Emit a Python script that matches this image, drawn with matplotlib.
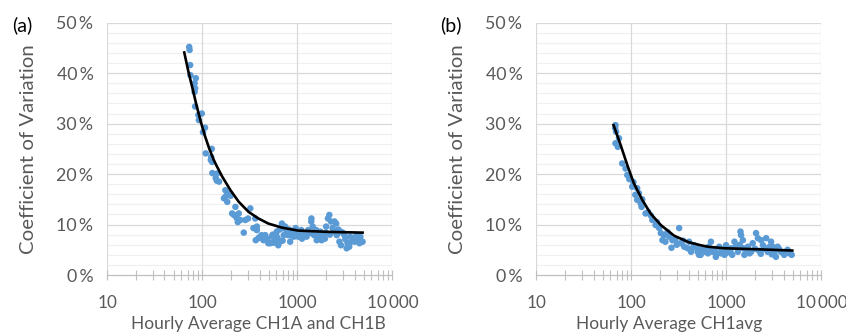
import numpy as np
import matplotlib
matplotlib.use('Agg')
import matplotlib.pyplot as plt
from matplotlib.ticker import FixedLocator, FuncFormatter, LogLocator, NullFormatter

plt.rcParams['font.family'] = ['Lato', 'DejaVu Sans']

# ---- panel (a): hourly average CH1A and CH1B ----
a_x = [72.8, 73.5, 74.5, 75, 85.5, 83, 84, 83, 84, 91, 98.8, 92, 106.8, 101.7,
       108.7, 125.7, 122.8, 124, 127, 127.5, 138.4, 142, 150, 143, 174.8, 183,
       198.6, 168.9, 183, 175, 223, 206, 215, 242, 251, 230, 236, 320, 303, 284,
       273, 345, 361, 375, 375, 390, 365, 400, 420, 460, 440, 480, 495, 520, 538,
       550, 560, 583, 600, 607, 620, 630, 650, 656, 688, 700, 700, 720, 745, 760,
       780, 806, 820, 840, 870, 880, 905, 920, 940, 960, 1000, 1020, 1050, 1100,
       1120, 1150, 1200, 1250, 1300, 1350, 1400, 1406, 1450, 1500, 1550, 1580,
       1600, 1660, 1700, 1750, 1800, 1900, 1950, 2000, 2010, 2100, 2170, 2200,
       2260, 2350, 2400, 2460, 2560, 2600, 2700, 2770, 2850, 2880, 3000, 3130,
       3200, 3300, 3370, 3510, 3550, 3600, 3800, 4000, 4200, 4400, 4500, 4600,
       4860]
a_y = [45.2, 44.6, 41.6, 39.6, 39.0, 38.0, 37.0, 36.3, 33.4, 31.7, 32.0, 30.7,
       29.2, 28.3, 24.1, 25.0, 22.8, 23.4, 22.4, 20.2, 19.2, 18.7, 18.5, 20.1,
       16.8, 16.2, 15.7, 15.2, 14.5, 15.5, 13.5, 12.2, 11.9, 12.2, 10.9, 11.3,
       10.5, 13.2, 11.2, 10.9, 8.4, 9.3, 11.2, 8.9, 9.6, 7.3, 6.9, 7.5, 7.9, 7.9,
       6.9, 7.1, 6.3, 6.3, 7.6, 8.0, 6.4, 6.9, 7.8, 8.6, 7.3, 5.9, 9.0, 6.6, 10.2,
       9.3, 6.8, 7.9, 9.6, 8.2, 8.6, 7.9, 9.0, 6.6, 8.3, 7.8, 8.6, 7.6, 8.0, 9.3,
       8.3, 7.6, 8.4, 8.9, 7.2, 8.2, 7.9, 7.6, 8.9, 8.3, 10.6, 11.2, 9.6, 7.9,
       8.5, 8.9, 6.9, 7.3, 8.0, 8.6, 6.9, 7.8, 7.2, 8.4, 9.6, 11.2, 11.9, 8.0,
       10.6, 9.3, 8.6, 10.6, 10.2, 7.9, 9.0, 6.6, 8.6, 5.9, 8.4, 7.9, 7.1, 5.3,
       6.3, 5.6, 6.3, 7.6, 7.3, 6.6, 7.9, 7.0, 6.3, 7.6, 6.6]
a_fit_x = [64.6, 71, 78.8, 87, 96.3, 106, 118, 132, 140, 162, 198, 242, 307,
           390, 495, 685, 1020, 2100, 4860]
a_fit_y = [44.1, 40.5, 37.0, 33.6, 30.4, 27.7, 25.1, 22.8, 21.8, 19.5, 16.8,
           14.5, 12.5, 11.2, 10.2, 9.4, 8.8, 8.55, 8.4]

# ---- panel (b): hourly average CH1avg ----
b_x = [68, 67.5, 69, 68, 74, 72, 80, 86.8, 90.5, 95, 102, 105, 115, 120, 110,
       115, 125, 128, 130, 141, 150, 160, 166, 180, 185, 196, 204, 220, 212, 228,
       240, 250, 264, 270, 290, 300, 318, 330, 350, 360, 390, 405, 424, 430, 456,
       459, 495, 497, 515, 536, 550, 583, 600, 639, 650, 687, 700, 714, 750, 774,
       800, 840, 875, 900, 954, 990, 1000, 1033, 1100, 1120, 1150, 1215, 1250,
       1320, 1380, 1405, 1425, 1490, 1500, 1545, 1600, 1680, 1750, 1820, 1890,
       2000, 2050, 2140, 2200, 2300, 2320, 2420, 2500, 2620, 2720, 2800, 2950,
       3000, 3060, 3200, 3320, 3460, 3600, 3740, 4050, 4200, 4400, 4600, 4860]
b_y = [29.7, 29.1, 28.4, 26.1, 27.1, 25.4, 22.1, 21.1, 19.8, 19.0, 17.5, 18.4,
       17.2, 16.2, 15.9, 14.9, 14.2, 13.5, 15.0, 12.2, 12.5, 11.8, 10.9, 9.9,
       10.5, 9.3, 8.3, 7.9, 6.9, 6.6, 8.5, 7.6, 5.4, 6.9, 7.0, 6.0, 9.3, 6.3, 6.8,
       5.6, 5.3, 6.6, 4.6, 5.2, 5.9, 5.6, 5.3, 4.6, 4.0, 4.0, 5.0, 5.3, 4.6, 4.3,
       5.6, 6.6, 5.0, 4.6, 5.0, 3.6, 4.3, 5.6, 4.3, 5.0, 4.0, 5.9, 4.4, 5.0, 4.5,
       5.3, 4.0, 6.6, 5.6, 4.6, 6.0, 8.6, 7.9, 6.9, 5.3, 4.0, 5.0, 5.6, 4.3, 4.6,
       6.3, 5.2, 8.3, 7.3, 4.8, 4.2, 6.9, 5.9, 5.2, 7.3, 4.6, 5.5, 6.6, 4.1, 5.6,
       4.5, 3.6, 5.6, 5.1, 4.6, 4.0, 4.6, 5.0, 4.3, 4.0]
b_fit_x = [64.9, 76.9, 90.5, 106, 130, 159, 204, 281, 400, 536, 639, 954,
           2140, 4930]
b_fit_y = [29.7, 25.8, 21.8, 18.2, 14.9, 12.2, 9.9, 7.8, 6.5, 5.9, 5.6, 5.3,
           5.1, 4.85]

x_ticks = [10, 100, 1000, 10000]
x_labels = ['10', '100', '1000', '10\u2009000']
panels = [('(a)', 'Hourly Average CH1A and CH1B', a_x, a_y, a_fit_x, a_fit_y),
          ('(b)', 'Hourly Average CH1avg', b_x, b_y, b_fit_x, b_fit_y)]

fig = plt.figure(figsize=(8.46, 3.36), dpi=100)
lefts = [0.1268, 0.634]
xlab_pos = [0.529, 0.465]
tag_pos = [12 / 846, 440 / 846]
width = 0.337

for i, (tag, xlab, xs, ys, fx, fy) in enumerate(panels):
    ax = fig.add_axes([lefts[i], 0.1815, width, 0.751])
    ax.set_xscale('log')
    ax.set_xlim(10, 10000)
    ax.set_ylim(0, 50)

    # excel-style grid: major every 10 %, minor every 2 %
    for v in range(2, 51, 2):
        c = '#D9D9D9' if v % 10 == 0 else '#F0F0F0'
        ax.axhline(v, color=c, lw=0.9, zorder=0)
    for v in x_ticks:
        ax.axvline(v, color='#D9D9D9', lw=0.9, zorder=0)

    ax.scatter(xs, ys, s=22, color='#5B9BD5', edgecolors='none', zorder=2)
    ax.plot(fx, fy, color='black', lw=1.9, zorder=3)

    for sp in ['top', 'right', 'left']:
        ax.spines[sp].set_visible(False)
    ax.spines['bottom'].set_color('#BFBFBF')
    ax.spines['bottom'].set_linewidth(0.9)

    ax.xaxis.set_major_locator(FixedLocator(x_ticks))
    ax.set_xticklabels(x_labels)
    ax.xaxis.set_minor_locator(LogLocator(base=10, subs=np.arange(2, 10)))
    ax.xaxis.set_minor_formatter(NullFormatter())
    ax.tick_params(axis='x', which='both', direction='inout', length=7,
                   width=0.8, color='#BFBFBF', labelsize=12.3, labelcolor='#595959',
                   pad=11)

    ax.set_yticks(range(0, 51, 10))
    ax.yaxis.set_major_formatter(FuncFormatter(lambda v, p: '%d\u2009%%' % v))
    ax.tick_params(axis='y', length=0, labelsize=12.8, labelcolor='#595959', pad=10)

    ax.set_xlabel(xlab, fontsize=12.5, color='#595959')
    ax.xaxis.set_label_coords(xlab_pos[i], -0.163)
    ax.set_ylabel('Coefficient of Variation', fontsize=14.7, color='#595959')
    ax.yaxis.set_label_coords(-0.247, 0.5)
    fig.text(tag_pos[i], 0.926, tag, fontsize=14, color='black',
             ha='left', va='center')

fig.savefig('out.png', dpi=100)
